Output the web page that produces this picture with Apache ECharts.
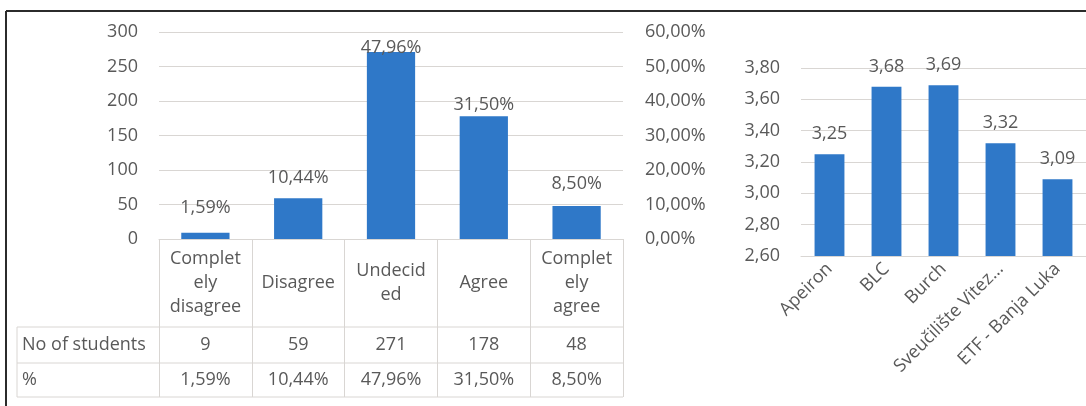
<!DOCTYPE html>
<html><head><meta charset="utf-8">
<script src="https://cdn.jsdelivr.net/npm/echarts@6/dist/echarts.min.js"></script>
<style>html,body{margin:0;padding:0;background:#fff}#c{width:1086px;height:406px}</style>
</head><body><div id="c"></div>
<script>
// ---- data ----
const categories = ['Complet\nely\ndisagree', 'Disagree', 'Undecid\ned', 'Agree', 'Complet\nely\nagree'];
const students = [9, 59, 271, 178, 48];
const percents = [1.59, 10.44, 47.96, 31.50, 8.50];
const rowNames = ['No of students', '%'];
const universities = ['Apeiron', 'BLC', 'Burch', 'Sveučilište Vitez…', 'ETF - Banja Luka'];
const means = [3.25, 3.68, 3.69, 3.32, 3.09];

// ---- style / layout ----
const FONT = 'Open Sans';
const TXT = '#595959';
const GRID = '#d9d6d3';
const BLUE = '#2f78c8';
const FS = 18;
const fmt2 = v => Number(v).toFixed(2).replace('.', ',');

const L = { left: 159, top: 32, width: 464, height: 207 };
const R = { left: 801, top: 68, width: 286, height: 188 };
const tableBottom = 397, row1Top = 327, row2Top = 363, tableLeft = 17;
const row1Off = 106, row2Off = 141;

const chart = echarts.init(document.getElementById('c'), null, { renderer: 'canvas' });
const txt = { fontFamily: FONT, fontSize: FS, color: TXT };
const axisY = L.top + L.height;

const option = {
  animation: false,
  backgroundColor: '#fff',
  textStyle: { fontFamily: FONT },
  grid: [
    { left: L.left, top: L.top, width: L.width, height: L.height },
    { left: R.left, top: R.top, width: R.width, height: R.height }
  ],
  xAxis: [
    {
      type: 'category', gridIndex: 0, data: categories, position: 'bottom',
      axisLine: { lineStyle: { color: GRID, width: 1 } },
      axisTick: { show: true, interval: 0, alignWithLabel: false, length: tableBottom - axisY, lineStyle: { color: GRID } },
      axisLabel: Object.assign({ interval: 0, margin: 44, verticalAlign: 'middle', lineHeight: 24 }, txt)
    },
    {
      type: 'category', gridIndex: 0, data: categories, position: 'bottom', offset: row1Off,
      axisLine: { show: false }, axisTick: { show: false },
      axisLabel: Object.assign({ interval: 0, margin: 0, verticalAlign: 'middle', formatter: (v, i) => String(students[i]) }, txt)
    },
    {
      type: 'category', gridIndex: 0, data: categories, position: 'bottom', offset: row2Off,
      axisLine: { show: false }, axisTick: { show: false },
      axisLabel: Object.assign({ interval: 0, margin: 0, verticalAlign: 'middle', formatter: (v, i) => fmt2(percents[i]) + '%' }, txt)
    },
    {
      type: 'category', gridIndex: 1, data: universities,
      axisLine: { lineStyle: { color: GRID } }, axisTick: { show: false },
      axisLabel: Object.assign({ interval: 0, rotate: 45, margin: 10 }, txt)
    }
  ],
  yAxis: [
    {
      type: 'value', gridIndex: 0, min: 0, max: 300, interval: 50,
      axisLine: { show: false }, axisTick: { show: false },
      splitLine: { lineStyle: { color: GRID } },
      axisLabel: Object.assign({ margin: 21 }, txt)
    },
    {
      type: 'value', gridIndex: 0, position: 'right', min: 0, max: 60, interval: 10,
      axisLine: { show: false }, axisTick: { show: false }, splitLine: { show: false },
      axisLabel: Object.assign({ margin: 22, formatter: v => fmt2(v) + '%' }, txt)
    },
    {
      type: 'value', gridIndex: 1, min: 2.6, max: 3.8, interval: 0.2,
      axisLine: { show: false }, axisTick: { show: false },
      splitLine: { lineStyle: { color: GRID } },
      axisLabel: Object.assign({ margin: 21, formatter: v => fmt2(v) }, txt)
    }
  ],
  series: [
    {
      type: 'bar', xAxisIndex: 0, yAxisIndex: 0, data: students,
      barCategoryGap: '48%', itemStyle: { color: BLUE }
    },
    {
      type: 'scatter', xAxisIndex: 0, yAxisIndex: 1, data: percents,
      symbolSize: 1, itemStyle: { color: BLUE, opacity: 0 }, z: 5,
      emphasis: { disabled: true },
      label: Object.assign({ show: true, position: 'top', distance: 16, opacity: 1, formatter: p => fmt2(p.value) + '%' }, txt)
    },
    {
      type: 'bar', xAxisIndex: 3, yAxisIndex: 2, data: means,
      barCategoryGap: '47.6%', itemStyle: { color: BLUE }, clip: true,
      label: Object.assign({ show: true, position: 'top', distance: 11, formatter: p => fmt2(p.value) }, txt)
    }
  ],
  graphic: [
    // outer frame (top and left edges)
    { type: 'line', shape: { x1: 6, y1: 11, x2: 1086, y2: 11 }, style: { stroke: '#2b2b2b', lineWidth: 2 } },
    { type: 'line', shape: { x1: 6, y1: 11, x2: 6, y2: 406 }, style: { stroke: '#2b2b2b', lineWidth: 2 } },
    // data table borders
    { type: 'line', shape: { x1: tableLeft, y1: row1Top, x2: L.left + L.width, y2: row1Top }, style: { stroke: GRID, lineWidth: 1 } },
    { type: 'line', shape: { x1: tableLeft, y1: row2Top, x2: L.left + L.width, y2: row2Top }, style: { stroke: GRID, lineWidth: 1 } },
    { type: 'line', shape: { x1: tableLeft, y1: tableBottom, x2: L.left + L.width, y2: tableBottom }, style: { stroke: GRID, lineWidth: 1 } },
    { type: 'line', shape: { x1: tableLeft, y1: row1Top, x2: tableLeft, y2: tableBottom }, style: { stroke: GRID, lineWidth: 1 } },
    // row headers of the data table
    { type: 'text', style: { x: tableLeft + 5, y: axisY + row1Off, text: rowNames[0], fill: TXT, font: FS + 'px "' + FONT + '"', verticalAlign: 'middle', align: 'left' } },
    { type: 'text', style: { x: tableLeft + 5, y: axisY + row2Off, text: rowNames[1], fill: TXT, font: FS + 'px "' + FONT + '"', verticalAlign: 'middle', align: 'left' } }
  ]
};
chart.setOption(option);
</script>
</body></html>
